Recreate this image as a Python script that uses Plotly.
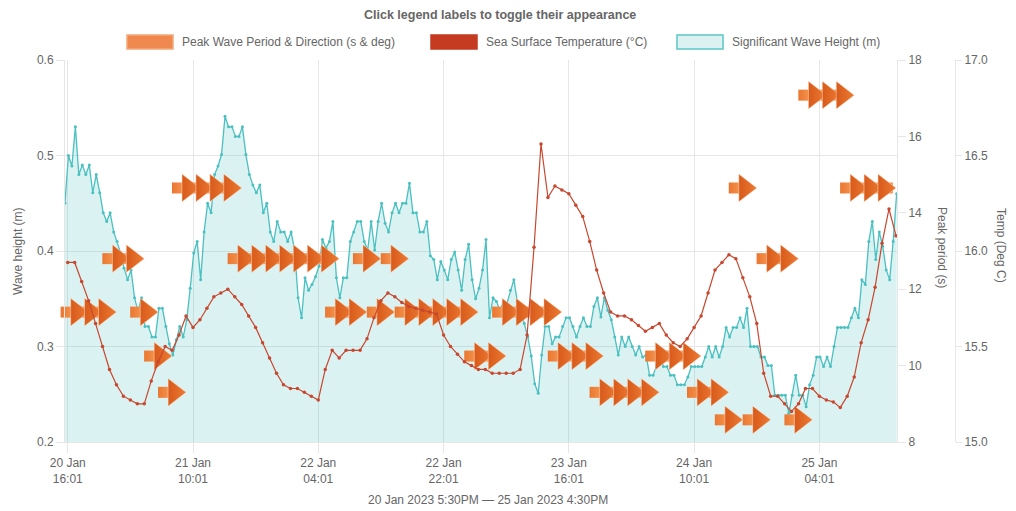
import numpy as np
import pandas as pd
import plotly.graph_objects as go

# ---------------- data ----------------
wave_start = "2023-01-20 15:37"   # half-hourly significant wave height
wave_height = [
    .450, .500, .489, .530, .480, .490, .480, .490, .461, .480,
    .461, .440, .431, .440, .420, .410, .398, .382, .370, .380,
    .351, .337, .351, .321, .321, .310, .310, .340, .340, .321,
    .303, .291, .307, .321, .310, .328, .361, .398, .410, .370,
    .420, .450, .440, .480, .489, .501, .541, .530, .530, .520,
    .520, .530, .501, .480, .469, .461, .469, .440, .450, .420,
    .410, .431, .420, .420, .410, .420, .401, .351, .330, .372,
    .359, .365, .373, .384, .412, .403, .410, .431, .372, .351,
    .372, .372, .410, .420, .431, .431, .410, .401, .431, .401,
    .431, .450, .429, .420, .440, .450, .440, .450, .450, .471,
    .440, .440, .420, .420, .431, .395, .391, .370, .389, .380,
    .370, .391, .399, .380, .359, .391, .407, .370, .350, .361,
    .380, .412, .330, .351, .347, .338, .347, .345, .359, .370,
    .347, .338, .324, .310, .290, .261, .251, .291, .321, .321,
    .303, .310, .310, .321, .330, .330, .321, .310, .321, .330,
    .321, .321, .342, .351, .331, .351, .338, .328, .310, .291,
    .310, .300, .310, .300, .291, .300, .289, .291, .270, .270,
    .279, .289, .279, .279, .270, .270, .260, .260, .260, .268,
    .279, .279, .279, .279, .289, .300, .289, .300, .289, .300,
    .320, .310, .320, .320, .330, .320, .340, .300, .300, .300,
    .289, .289, .280, .280, .249, .249, .249, .249, .230, .249,
    .270, .249, .249, .237, .260, .270, .289, .289, .279, .289,
    .279, .300, .320, .320, .320, .320, .330, .340, .330, .370,
    .365, .410, .431, .391, .420, .405, .380, .370, .410, .460,
]

temp_start = "2023-01-20 16:01"   # hourly sea surface temperature
sea_temp = [
    15.94, 15.94, 15.84, 15.74, 15.62, 15.50, 15.38, 15.30, 15.24, 15.22,
    15.20, 15.20, 15.32, 15.42, 15.50, 15.48, 15.56, 15.66, 15.60, 15.64,
    15.70, 15.76, 15.78, 15.80, 15.76, 15.72, 15.66, 15.60, 15.52, 15.44,
    15.36, 15.30, 15.28, 15.28, 15.26, 15.24, 15.22, 15.38, 15.48, 15.44,
    15.48, 15.48, 15.48, 15.54, 15.65, 15.74, 15.78, 15.76, 15.73, 15.71,
    15.70, 15.69, 15.68, 15.67, 15.56, 15.50, 15.46, 15.42, 15.40, 15.38,
    15.38, 15.36, 15.36, 15.36, 15.36, 15.38, 15.56, 16.02, 16.56, 16.28,
    16.34, 16.32, 16.30, 16.24, 16.18, 16.05, 15.90, 15.78, 15.68, 15.66,
    15.66, 15.64, 15.61, 15.58, 15.60, 15.62, 15.56, 15.52, 15.50, 15.54,
    15.60, 15.66, 15.78, 15.90, 15.94, 15.98, 15.96, 15.86, 15.76, 15.62,
    15.36, 15.24, 15.24, 15.20, 15.16, 15.20, 15.28, 15.28, 15.24, 15.22,
    15.21, 15.18, 15.24, 15.34, 15.52, 15.64, 15.81, 16.04, 16.22, 16.08,
]

period_start = "2023-01-20 17:01"  # two-hourly peak period (direction ~ east-going)
peak_period = [
    11.4, 11.4, 11.4, 12.8, 12.8, 11.4, 10.25, 9.3, 14.65, 14.65,
    14.65, 14.65, 12.8, 12.8, 12.8, 12.8, 12.8, 12.8, 12.8, 11.4,
    11.4, 12.8, 11.4, 12.8, 11.4, 11.4, 11.4, 11.4, 11.4, 10.25,
    10.25, 11.4, 11.4, 11.4, 11.4, 10.25, 10.25, 10.25, 9.3, 9.3,
    9.3, 9.3, 10.25, 10.25, 10.25, 9.3, 9.3, 8.58, 14.65, 8.58,
    12.8, 12.8, 8.58, 17.08, 17.08, 17.08, 14.65, 14.65, 14.65, 14.65,
]

x_tick_vals = ["2023-01-20 16:01", "2023-01-21 10:01", "2023-01-22 04:01",
               "2023-01-22 22:01", "2023-01-23 16:01", "2023-01-24 10:01",
               "2023-01-25 04:01"]
x_tick_text = ["20 Jan<br>16:01", "21 Jan<br>10:01", "22 Jan<br>04:01",
               "22 Jan<br>22:01", "23 Jan<br>16:01", "24 Jan<br>10:01",
               "25 Jan<br>04:01"]
x_range = ["2023-01-20 15:37:30", "2023-01-25 15:10"]

# ---------------- derived time axes ----------------
wave_t = pd.Timestamp(wave_start) + pd.to_timedelta(np.arange(len(wave_height)) * 30, unit="min")
temp_t = pd.Timestamp(temp_start) + pd.to_timedelta(np.arange(len(sea_temp)), unit="h")
per_t = pd.Timestamp(period_start) + pd.to_timedelta(np.arange(len(peak_period)) * 2, unit="h")
shaft_t = per_t - pd.Timedelta(minutes=74)
head_t = per_t + pd.Timedelta(minutes=17)

GREY = "#666666"
FONT = "Liberation Sans, Arial, sans-serif"
GRID = "#e6e6e6"
TEAL = "rgb(75,192,192)"
RED = "#c8472f"

fig = go.Figure()

fig.add_trace(go.Scatter(
    x=wave_t, y=wave_height, mode="lines+markers", name="Significant Wave Height (m)",
    line=dict(color=TEAL, width=1.3), marker=dict(size=3, color=TEAL),
    fill="tozeroy", fillcolor="rgba(75,192,192,0.2)", yaxis="y", showlegend=False))

fig.add_trace(go.Scatter(
    x=temp_t, y=sea_temp, mode="lines+markers", name="Sea Surface Temperature (°C)",
    line=dict(color=RED, width=1.2), marker=dict(size=3.5, color=RED),
    yaxis="y3", showlegend=False))

fig.add_trace(go.Scatter(
    x=shaft_t, y=peak_period, mode="markers", yaxis="y2", showlegend=False,
    cliponaxis=False, hoverinfo="skip",
    marker=dict(symbol="square", size=11, color="#ea7630",
                gradient=dict(type="horizontal", color="#f3924c"),
                line=dict(width=0))))
fig.add_trace(go.Scatter(
    x=head_t, y=peak_period, mode="markers", yaxis="y2", showlegend=False,
    cliponaxis=False, name="Peak Wave Period & Direction (s & deg)",
    marker=dict(symbol="triangle-right", size=24, color="#d85a1a",
                gradient=dict(type="horizontal", color="#ec7a34"),
                line=dict(width=0.6, color="rgba(255,225,200,0.8)"))))

# page is rendered with an 8px body margin, so the figure is 8px smaller
W, H, OFF = 1016, 511, 8
ML, MT, MR, MB = 65 - OFF, 60 - OFF, 40, 69
dom_right = (897 - 65) / 911

fig.update_layout(
    width=W - OFF, height=H - OFF,
    margin=dict(l=ML, r=MR, t=MT, b=MB, autoexpand=False),
    paper_bgcolor="white", plot_bgcolor="white",
    font=dict(family=FONT, size=12, color=GREY),
    showlegend=False,
    xaxis=dict(type="date", domain=[0, dom_right], range=x_range,
               tickmode="array", tickvals=x_tick_vals, ticktext=x_tick_text,
               showgrid=True, gridcolor=GRID, gridwidth=1,
               ticks="outside", ticklen=10, tickcolor=GRID,
               showline=True, linecolor=GRID, zeroline=False,
               tickfont=dict(size=12, color=GREY)),
    yaxis=dict(range=[0.2, 0.6], dtick=0.1, tick0=0.2, tickformat=".1f",
               showgrid=True, gridcolor=GRID, zeroline=False,
               ticks="outside", ticklen=8, tickcolor=GRID,
               showline=True, linecolor=GRID,
               tickfont=dict(size=12, color=GREY)),
    yaxis2=dict(range=[8, 18], dtick=2, tick0=8, overlaying="y", side="right",
                anchor="x", showgrid=False, zeroline=False,
                ticks="outside", ticklen=8, tickcolor=GRID,
                showline=True, linecolor=GRID,
                tickfont=dict(size=12, color=GREY)),
    yaxis3=dict(range=[15, 17], dtick=0.5, tick0=15, tickformat=".1f",
                overlaying="y", side="right", anchor="free",
                position=(955 - 65) / 911, showgrid=False, zeroline=False,
                ticks="outside", ticklen=6, tickcolor=GRID,
                showline=True, linecolor=GRID,
                tickfont=dict(size=12, color=GREY)),
)

def px_x(px):
    return (px - 65) / 911

def px_y(py):
    return (442 - py) / 382

ann = []
def add_text(text, px, py, angle=0, xanchor="center", size=12):
    ann.append(dict(text=text, x=px_x(px), y=px_y(py), xref="paper", yref="paper",
                    xanchor=xanchor, yanchor="middle", textangle=angle,
                    showarrow=False, font=dict(size=size, color=GREY)))

add_text("<b>Click legend labels to toggle their appearance</b>", 500, 15, size=12.5)
add_text("Wave height (m)", 18, 251, angle=-90)
add_text("Peak period (s)", 942, 247, angle=90)
add_text("Temp (Deg C)", 1001, 245, angle=90)
add_text("20 Jan 2023 5:30PM — 25 Jan 2023 4:30PM", 488, 500)

legend_items = [
    ("Peak Wave Period & Direction (s & deg)", 127, 173, "#f0894f", "#f4a878"),
    ("Sea Surface Temperature (°C)", 431, 477, "#c43b22", "#c43b22"),
    ("Significant Wave Height (m)", 677, 723, "#dcf2f2", "#5cc6c6"),
]
shapes = []
for label, x0, x1, fill, border in legend_items:
    shapes.append(dict(type="rect", xref="paper", yref="paper",
                       x0=px_x(x0), x1=px_x(x1), y0=px_y(49), y1=px_y(35),
                       fillcolor=fill, line=dict(color=border, width=1.5)))
    add_text(label, x1 + 7, 42, xanchor="left")

fig.update_layout(annotations=ann, shapes=shapes)
fig.write_html("out.html")
